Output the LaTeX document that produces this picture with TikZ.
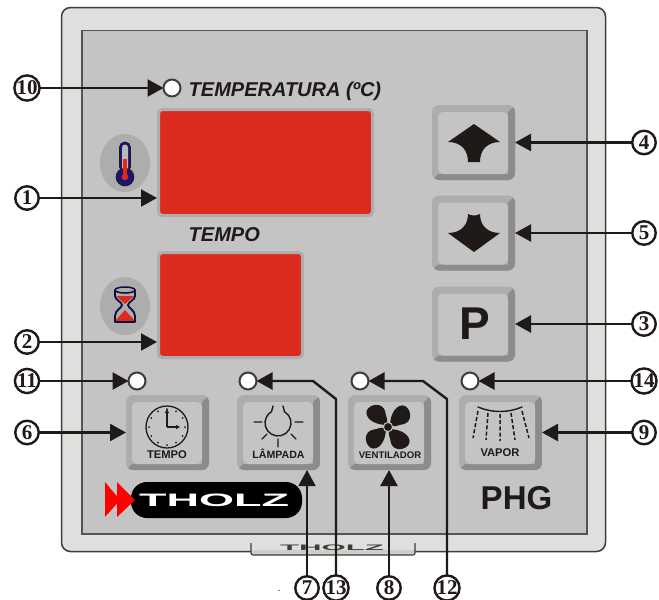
\documentclass[tikz,border=0pt]{standalone}
\usepackage{fontspec}
\setmainfont{Liberation Sans}
\newfontfamily\numfont{Liberation Serif}
\usetikzlibrary{arrows.meta}
\definecolor{ink}{HTML}{1F1A17}
\definecolor{rimlight}{HTML}{DFDFDD}
\definecolor{panelgray}{HTML}{C4C4C4}
\definecolor{capdark}{HTML}{8C8C8C}
\definecolor{caplight}{HTML}{ADADAD}
\definecolor{dispred}{HTML}{DC2A1C}
\definecolor{navy}{HTML}{1B1470}
\newcommand{\fs}[1]{\fontsize{#1}{#1}\selectfont}
\tikzset{
  callout/.style={circle,draw=ink,line width=2.4pt,fill=white,minimum size=23.5pt,inner sep=0pt,outer sep=0pt,font=\numfont\bfseries\fs{21},text=ink},
  led/.style={circle,draw=ink!85,line width=2pt,fill=white,minimum size=17pt,inner sep=0pt,outer sep=0pt},
  conn/.style={draw=ink,line width=2.4pt,-{Triangle[length=16pt,width=17pt]}},
  keycap/.style={rectangle,fill=caplight,rounded corners=7pt,minimum width=83pt,minimum height=75pt,inner sep=0pt,outer sep=0pt},
  keytext/.style={font=\bfseries\fs{#1},text=ink,inner sep=0pt},
  symb/.style={draw=ink,line width=1.4pt,line cap=round},
  disp/.style={rectangle,fill=dispred,draw=caplight,line width=3pt,rounded corners=4pt,inner sep=0pt,outer sep=1.5pt}
}
\newcommand{\keybox}[3]{%
  \begin{scope}[shift={(#2,#3)}]
    \node[keycap] (#1) at (0,0) {};
    \begin{scope}
      \clip[rounded corners=7pt] (-41.5,-37.5) rectangle (41.5,37.5);
      \fill[capdark] (41.5,-37.5) -- (34.5,-30.5) -- (34.5,31.5) -- (-35.5,31.5) -- (-41.5,37.5) -- (41.5,37.5) -- cycle;
    \end{scope}
    \fill[panelgray,rounded corners=5pt] (-35.5,-30.5) rectangle (34.5,31.5);
  \end{scope}%
}
\begin{document}
\begin{tikzpicture}[x=1pt,y=-1pt]
\useasboundingbox (0,0) rectangle (659,600);
\fill[white] (0,0) rectangle (659,600);
% panel
\filldraw[fill=rimlight,draw=ink!85,line width=1.5pt,rounded corners=9pt] (61.5,7.5) rectangle (605.5,551.5);
\filldraw[fill=panelgray,draw=ink!75,line width=1.3pt] (82,30.5) rectangle (587,534);
% tab
\fill[rimlight] (251,546) rectangle (415,553.5);
\filldraw[fill=rimlight!92!black,draw=none] (251,550) rectangle (415,555);
\draw[ink!85,line width=1.2pt,rounded corners=2pt] (251,543) -- (251,555) -- (415,555) -- (415,543);
\node[font=\bfseries\fs{8},text=ink!85,inner sep=0pt,xscale=3.9] (tablogo) at (332,547.5) {THOLZ};
% displays
\node[disp,minimum width=214pt,minimum height=106pt] (d1) at (265.5,162.5) {};
\node[disp,minimum width=144pt,minimum height=105pt] (d2) at (230.5,305) {};
% text
\node[font=\bfseries\itshape\fs{20},text=ink,anchor=west,inner sep=0pt] (ttemp) at (188.5,91.5) {TEMPERATURA (ºC)};
\node[font=\bfseries\itshape\fs{20},text=ink,anchor=west,inner sep=0pt] (ttempo) at (188.5,234.5) {TEMPO};
\node[font=\bfseries\fs{33},text=ink,inner sep=0pt] (phg) at (516.5,498.5) {PHG};
% thermometer
\fill[caplight] (125,163) ellipse (25 and 29);
\filldraw[fill=navy,draw=ink,line width=.6pt] (125,177) circle (9);
\filldraw[fill=navy,draw=ink,line width=.6pt,rounded corners=5pt] (119.5,142) rectangle (130.5,172);
\fill[caplight!85!white,rounded corners=3pt] (122,144.5) rectangle (128,170);
\fill[dispred] (123,159) rectangle (127,178);
\fill[dispred] (125,177) circle (3.3);
% hourglass
\fill[caplight] (125,306) ellipse (25 and 29);
\fill[dispred] (116,296) -- (134,296) -- (125,304) -- cycle;
\fill[dispred] (125,310) -- (135,321) -- (115,321) -- cycle;
\draw[navy!60!black,line width=1.8pt,line join=round] (115,290) -- (115,296) .. controls (115,300) and (122,302) .. (122,305) .. controls (122,308) and (115,310) .. (115,316) -- (115,322) -- (135,322) -- (135,316) .. controls (135,310) and (128,308) .. (128,305) .. controls (128,302) and (135,300) .. (135,296) -- (135,290);
\draw[navy!60!black,line width=1.5pt] (125,290) ellipse (10 and 3);
% keys
\keybox{kup}{473.5}{142.5}
\keybox{kdown}{473.5}{233}
\keybox{kp}{473.5}{324}
\keybox{ktempo}{167.5}{432.5}
\keybox{klamp}{278.5}{432.5}
\keybox{kfan}{389.5}{432.5}
\keybox{kvap}{500.5}{432.5}
% up / down / P
\fill[ink] (474,124) -- (500,142) .. controls (487,142) and (480,150) .. (480,162) -- (468,162) .. controls (468,150) and (461,142) .. (448,142) -- cycle;
\fill[ink] (474,252) -- (500,233) .. controls (487,233) and (480,225) .. (480,214) .. controls (476,216) and (472,216) .. (468,214) .. controls (468,225) and (461,233) .. (448,233) -- cycle;
\node[font=\bfseries\fs{46},text=ink,inner sep=0pt] (pl) at (475,323.5) {P};
% clock
\draw[ink,line width=1.3pt] (167,427) circle (21);
\foreach \a in {0,30,...,330}{\fill[ink] (167,427) ++(\a:18pt) circle (1);}
\node[inner sep=0pt,outer sep=0pt,minimum size=0pt] (hub) at (167,427) {};
\coordinate (hup) at (167,409);
\coordinate (hright) at (180,427);
\draw[ink,line width=1.3pt,-{Triangle[length=4pt,width=4pt]}] (hub.center) -- (hup);
\draw[ink,line width=1.3pt,-{Triangle[length=4pt,width=4pt]}] (hub.center) -- (hright);
\node[keytext=11.2] (ltempo) at (167,454.5) {TEMPO};
% lamp
\draw[symb] (283,406) -- (284.5,411.7) arc[start angle=60,end angle=-240,radius=13pt] -- (273,406);
\draw[symb] (254,422) -- (262,422) (295,422) -- (303,422) (262,439) -- (267,434) (291,434) -- (296,439) (278,439) -- (278,447);
\node[keytext=10.6] (llamp) at (278.5,454) {LÂMPADA};
% fan
\begin{scope}[shift={(388,427)}]
  \foreach \r in {0,90,180,270}{
    \fill[ink,rotate=\r] (-1,-2) .. controls (-15,-2) and (-24,-10) .. (-21,-17) .. controls (-17,-24) and (-5,-24) .. (-3,-16) .. controls (-2,-10) and (0,-8) .. (-1,-2) -- cycle;
  }
  \filldraw[fill=ink,draw=panelgray,line width=1pt] (0,0) circle (4.6);
\end{scope}
\node[keytext=9.6] (lfan) at (390,455) {VENTILADOR};
% vapor
\draw[symb] (478,407) .. controls (492,413) and (508,413) .. (522,407);
\draw[ink,line width=1.5pt,dash pattern=on 4pt off 2.2pt] (478,411) -- (473,438) (488,413) -- (486,440) (500,414) -- (500,441) (511,413) -- (515,440) (522,411) -- (529,438);
\node[keytext=11.2] (lvap) at (500,453) {VAPOR};
% logo
\node[rectangle,fill=black,rounded corners=16pt,minimum width=171pt,minimum height=36pt,inner sep=0pt,outer sep=0pt] (pill) at (216.5,500) {};
\node[font=\bfseries\fs{18},text=white,inner sep=0pt,xscale=2.5] (logo) at (214,500) {THOLZ};
\fill[red] (105,482) -- (120,500) -- (105,517) -- cycle;
\fill[red] (117,482) -- (135,500) -- (117,517) -- cycle;
% speck
\fill[ink] (279,590.5) circle (.6);
% LEDs
\node[led] (l10) at (172,88) {};
\node[led] (l11) at (137,381) {};
\node[led] (l13) at (248,381) {};
\node[led] (l12) at (360,381) {};
\node[led] (l14) at (470,381) {};
% callouts
\node[callout] (c10) at (27,88) {10};
\node[callout] (c1) at (27,198) {1};
\node[callout] (c2) at (27,342) {2};
\node[callout] (c11) at (27,381) {11};
\node[callout] (c6) at (27,432.5) {6};
\node[callout] (c4) at (644,142.5) {4};
\node[callout] (c5) at (644,233) {5};
\node[callout] (c3) at (644,324) {3};
\node[callout] (c14) at (644,381) {14};
\node[callout] (c9) at (644,432.5) {9};
\node[callout] (c7) at (307,588) {7};
\node[callout] (c13) at (336,588) {13};
\node[callout] (c8) at (389,588) {8};
\node[callout] (c12) at (447,588) {12};
% connector ends
\coordinate (t1) at (157,198);
\coordinate (t2) at (157,342);
\coordinate (b13a) at (336,399);
\coordinate (b13b) at (313,381);
\coordinate (b12a) at (447,399);
\coordinate (b12b) at (423,381);
\coordinate (t7) at (307,470);
\coordinate (t8) at (389,470);
% connectors
\draw[conn] (c10) -- (l10);
\draw[conn] (c1) -- (t1);
\draw[conn] (c2) -- (t2);
\draw[conn] (c11) -- (l11);
\draw[conn] (c6) -- (ktempo);
\draw[conn] (c4) -- (kup);
\draw[conn] (c5) -- (kdown);
\draw[conn] (c3) -- (kp);
\draw[conn] (c14) -- (l14);
\draw[conn] (c9) -- (kvap);
\draw[conn,line width=1.6pt] (c7) -- (t7);
\draw[conn] (c8) -- (t8);
\draw[conn,line join=round] (c13) -- (b13a) -- (b13b) -- (l13);
\draw[conn,line join=round] (c12) -- (b12a) -- (b12b) -- (l12);
\end{tikzpicture}
\end{document}
